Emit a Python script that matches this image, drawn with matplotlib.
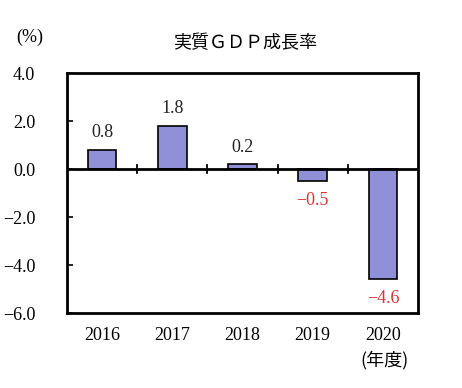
import matplotlib
matplotlib.use("Agg")
import matplotlib.pyplot as plt
import numpy as np

years = ["2016", "2017", "2018", "2019", "2020"]
growth = [0.8, 1.8, 0.2, -0.5, -4.6]
yticks = [4.0, 2.0, 0.0, -2.0, -4.0, -6.0]
title = "実質ＧＤＰ成長率"

serif = ["Liberation Serif", "DejaVu Serif"]
cjk = ["Noto Sans CJK JP", "DejaVu Sans"]

fig = plt.figure(figsize=(4.62, 3.88), dpi=100)
ax = fig.add_axes([67/462, 1-313/388, (418-67)/462, (313-73)/388])

x = np.arange(len(years))
ax.bar(x, growth, width=0.41, color="#9090d8", edgecolor="black", linewidth=1.2, zorder=3)
ax.set_xlim(-0.5, len(years)-0.5)
ax.set_ylim(-6, 4)
ax.axhline(0, color="black", linewidth=2, zorder=4)

for xi in np.arange(0.5, len(years)-0.5, 1):
    ax.plot([xi, xi], [-0.15, 0.15], color="black", linewidth=1.3, zorder=4)

for xi, v in zip(x, growth):
    if v >= 0:
        ax.text(xi, v + 0.35, f"{v:.1f}", ha="center", va="bottom", fontsize=13,
                family=serif, color="#222222")
    else:
        ax.text(xi, v - 0.45, f"{v:.1f}".replace("-", "\u2212"), ha="center", va="top",
                fontsize=13, family=serif, color="#e03030")

ax.set_yticks(yticks)
ax.set_yticklabels([f"{t:.1f}".replace("-", "\u2212") for t in yticks], family=serif, fontsize=13)
ax.tick_params(axis="y", direction="in", length=4, width=1.2, pad=23, colors="black")
ax.set_xticks(x)
ax.set_xticklabels(years, family=serif, fontsize=13)
ax.tick_params(axis="x", length=0, pad=10)
for s in ax.spines.values():
    s.set_linewidth(2)

fig.text(245/462, 1-43/388, title, ha="center", va="center", fontsize=13, family=cjk)
fig.text(30/462, 1-37/388, "(%)", ha="center", va="center", fontsize=13, family=serif)
fig.text(385/462, 1-360/388, "(年度)", ha="center", va="center", fontsize=13, family=cjk)

fig.savefig("out.png", dpi=100)
